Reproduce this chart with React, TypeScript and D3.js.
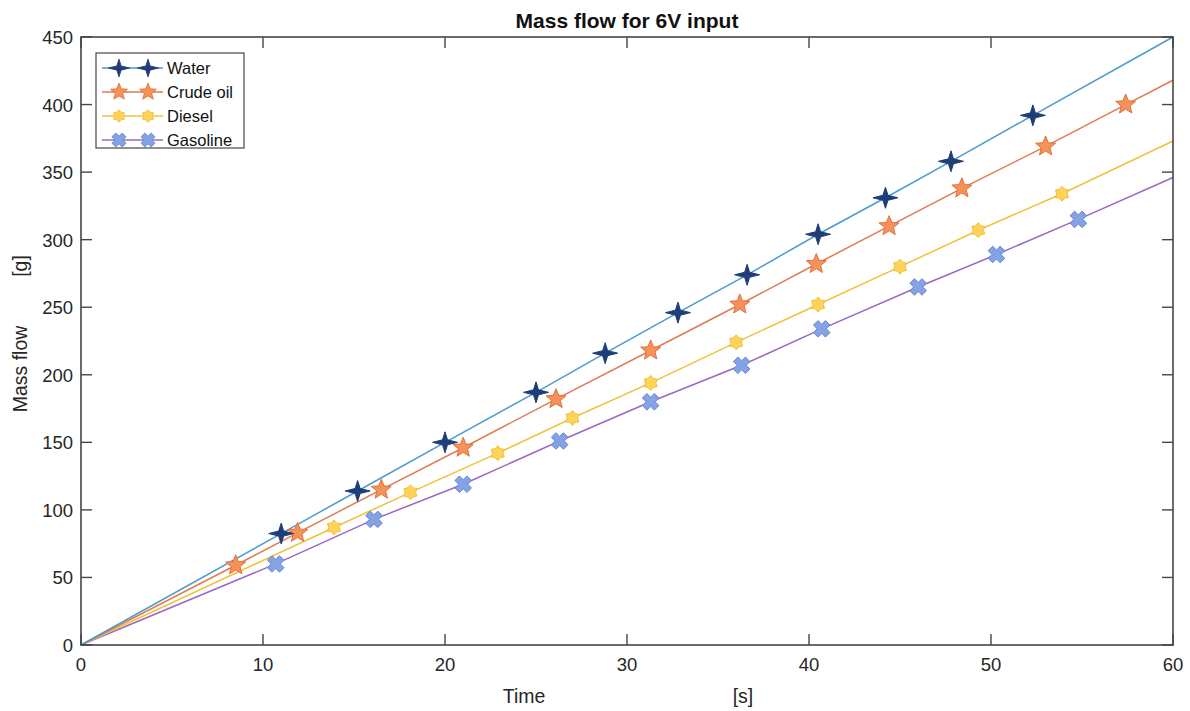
import React, { useEffect } from "react";
import * as d3 from "d3";

// ---- data ----
const seriesNames = ["Water", "Crude oil", "Diesel", "Gasoline"];

const waterTime = [11.0, 15.2, 20.0, 25.0, 28.8, 32.8, 36.6, 40.5, 44.2, 47.8, 52.3];
const waterMass = [82.5, 114, 150, 187, 216, 246, 274, 304, 331, 358, 392];
const waterEnd = 450;

const crudeTime = [8.5, 11.9, 16.5, 21.0, 26.1, 31.3, 36.2, 40.4, 44.4, 48.4, 53.0, 57.4];
const crudeMass = [59, 83, 115, 146, 182, 218, 252, 282, 310, 338, 369, 400];
const crudeEnd = 418;

const dieselTime = [13.9, 18.1, 22.9, 27.0, 31.3, 36.0, 40.5, 45.0, 49.3, 53.9];
const dieselMass = [87, 113, 142, 168, 194, 224, 252, 280, 307, 334];
const dieselEnd = 373;

const gasolineTime = [10.7, 16.1, 21.0, 26.3, 31.3, 36.3, 40.7, 46.0, 50.3, 54.8];
const gasolineMass = [60, 93, 119, 151, 180, 207, 234, 265, 289, 315];
const gasolineEnd = 346;

const xTicks = [0, 10, 20, 30, 40, 50, 60];
const yTicks = [0, 50, 100, 150, 200, 250, 300, 350, 400, 450];

const titleText = "Mass flow for 6V input";
const xLabel = "Time";
const xUnit = "[s]";
const yLabel = "Mass flow";
const yUnit = "[g]";

// ---- layout ----
const W = 1190, H = 711;
const left = 81, right = 1173, top = 37, bottom = 645;

type Kind = "star4" | "penta" | "hexa" | "xcross";
const styles: { line: string; fill: string; stroke: string; kind: Kind }[] = [
  { line: "#4a9bd0", fill: "#1f3e78", stroke: "#1f3e78", kind: "star4" },
  { line: "#e07a50", fill: "#f4925a", stroke: "#e2703e", kind: "penta" },
  { line: "#f0c23a", fill: "#fdd35a", stroke: "#f2bf34", kind: "hexa" },
  { line: "#9a68c2", fill: "#84a2e4", stroke: "#6384d6", kind: "xcross" },
];

function markerPath(kind: Kind): string {
  if (kind === "star4") {
    const hx = 12.5, hy = 10.5, w = 2.5;
    return `M${-hx},0 L${-w},${-w} L0,${-hy} L${w},${-w} L${hx},0 L${w},${w} L0,${hy} L${-w},${w} Z`;
  }
  if (kind === "penta") {
    const R = 10.5, r = 4.6;
    const pts: string[] = [];
    for (let i = 0; i < 10; i++) {
      const a = -Math.PI / 2 + (i * Math.PI) / 5;
      const rr = i % 2 === 0 ? R : r;
      pts.push(`${(rr * Math.cos(a)).toFixed(2)},${(rr * Math.sin(a)).toFixed(2)}`);
    }
    return "M" + pts.join(" L") + " Z";
  }
  if (kind === "hexa") {
    const R = 7.5, r = 5.2;
    const pts: string[] = [];
    for (let i = 0; i < 12; i++) {
      const a = -Math.PI / 2 + (i * Math.PI) / 6;
      const rr = i % 2 === 0 ? R : r;
      pts.push(`${(rr * Math.cos(a)).toFixed(2)},${(rr * Math.sin(a)).toFixed(2)}`);
    }
    return "M" + pts.join(" L") + " Z";
  }
  // x cross
  const a = 8.5, b = 3.2;
  const base = [
    [-b, -a], [b, -a], [b, -b], [a, -b], [a, b], [b, b], [b, a], [-b, a], [-b, b], [-a, b], [-a, -b], [-b, -b],
  ];
  const c = Math.cos(Math.PI / 4), s = Math.sin(Math.PI / 4);
  const pts = base.map(([x, y]) => `${(x * c - y * s).toFixed(2)},${(x * s + y * c).toFixed(2)}`);
  return "M" + pts.join(" L") + " Z";
}

export default function App() {
  useEffect(() => {
    document.body.style.margin = "0";
  }, []);

  const x = d3.scaleLinear().domain([0, 60]).range([left, right]);
  const y = d3.scaleLinear().domain([0, 450]).range([bottom, top]);

  const all = [
    { t: waterTime, m: waterMass, end: waterEnd },
    { t: crudeTime, m: crudeMass, end: crudeEnd },
    { t: dieselTime, m: dieselMass, end: dieselEnd },
    { t: gasolineTime, m: gasolineMass, end: gasolineEnd },
  ];

  const line = d3
    .line<[number, number]>()
    .x((d) => x(d[0]))
    .y((d) => y(d[1]));

  const font = "Liberation Sans, Arial, Helvetica, sans-serif";
  const axisColor = "#464646";
  const tickLen = 11;

  // legend
  const lgX = 96, lgY = 53, lgW = 148, lgH = 95;
  const lgRows = [68, 92, 116, 140];

  const order = [3, 2, 1, 0];

  return (
    <svg width={W} height={H} style={{ position: "absolute", left: 0, top: 0, background: "#fff" }} fontFamily={font}>
      <rect x={0} y={0} width={W} height={H} fill="#fff" />
      {/* title */}
      <text x={(left + right) / 2} y={28} textAnchor="middle" fontSize={21} fontWeight="bold" fill="#111">
        {titleText}
      </text>

      {/* series lines */}
      <g>
        {order.map((i) => {
          const s = all[i];
          const pts: [number, number][] = [[0, 0], ...s.t.map((t, k) => [t, s.m[k]] as [number, number]), [60, s.end]];
          return <path key={i} d={line(pts) || ""} fill="none" stroke={styles[i].line} strokeWidth={1.5} />;
        })}
      </g>
      {/* markers */}
      <g>
        {order.map((i) => {
          const s = all[i];
          const p = markerPath(styles[i].kind);
          return s.t.map((t, k) => (
            <path
              key={`${i}-${k}`}
              d={p}
              transform={`translate(${x(t)},${y(s.m[k])})`}
              fill={styles[i].fill}
              stroke={styles[i].stroke}
              strokeWidth={1}
              strokeLinejoin="round"
            />
          ));
        })}
      </g>

      {/* axes box */}
      <rect x={left} y={top} width={right - left} height={bottom - top} fill="none" stroke={axisColor} strokeWidth={1.6} />
      {xTicks.map((t) => (
        <g key={`xt${t}`}>
          <line x1={x(t)} x2={x(t)} y1={bottom} y2={bottom - tickLen} stroke={axisColor} strokeWidth={1.4} />
          <line x1={x(t)} x2={x(t)} y1={top} y2={top + tickLen} stroke={axisColor} strokeWidth={1.4} />
          <text x={x(t)} y={bottom + 26} textAnchor="middle" fontSize={18.5} fill="#262626">
            {t}
          </text>
        </g>
      ))}
      {yTicks.map((t) => (
        <g key={`yt${t}`}>
          <line x1={left} x2={left + tickLen} y1={y(t)} y2={y(t)} stroke={axisColor} strokeWidth={1.4} />
          <line x1={right} x2={right - tickLen} y1={y(t)} y2={y(t)} stroke={axisColor} strokeWidth={1.4} />
          <text x={left - 8} y={y(t) + 7} textAnchor="end" fontSize={18.5} fill="#262626">
            {t}
          </text>
        </g>
      ))}

      {/* axis labels */}
      <text x={524} y={703} textAnchor="middle" fontSize={19.5} fill="#262626">
        {xLabel}
      </text>
      <text x={743} y={703} textAnchor="middle" fontSize={19.5} fill="#262626">
        {xUnit}
      </text>
      <text transform={`translate(27,369) rotate(-90)`} textAnchor="middle" fontSize={19.5} fill="#262626">
        {yLabel}
      </text>
      <text transform={`translate(27,266) rotate(-90)`} textAnchor="middle" fontSize={19.5} fill="#262626">
        {yUnit}
      </text>

      {/* legend */}
      <rect x={lgX} y={lgY} width={lgW} height={lgH} fill="#fff" stroke={axisColor} strokeWidth={1.2} />
      {seriesNames.map((name, i) => (
        <g key={name}>
          <line x1={102} x2={163} y1={lgRows[i]} y2={lgRows[i]} stroke={styles[i].line} strokeWidth={1.5} />
          {[119, 148].map((mx) => (
            <path
              key={mx}
              d={markerPath(styles[i].kind)}
              transform={`translate(${mx},${lgRows[i]}) scale(0.85)`}
              fill={styles[i].fill}
              stroke={styles[i].stroke}
              strokeWidth={1}
            />
          ))}
          <text x={167} y={lgRows[i] + 6} fontSize={16.5} fill="#111">
            {name}
          </text>
        </g>
      ))}
    </svg>
  );
}
